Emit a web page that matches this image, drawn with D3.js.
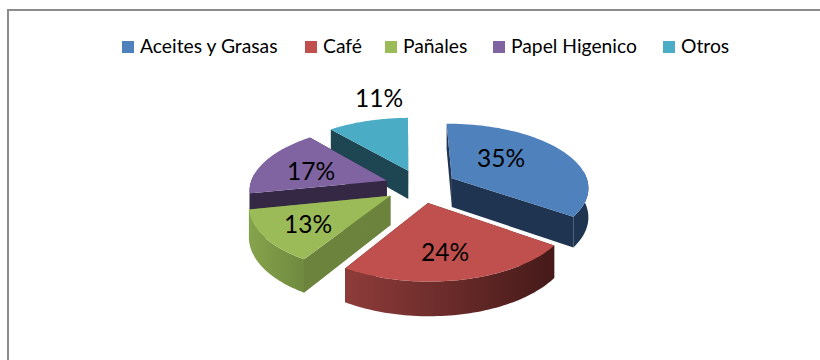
<!DOCTYPE html>
<html>
<head>
<meta charset="utf-8">
<script src="https://cdn.jsdelivr.net/npm/d3@7/dist/d3.min.js"></script>
<style>
  html, body { margin: 0; padding: 0; background: #fff; }
  svg { display: block; }
  text { font-family: Lato, "Open Sans", sans-serif; fill: #000; }
</style>
</head>
<body>
<svg id="chart" width="820" height="360"></svg>
<script>
const categories = ["Aceites y Grasas", "Café", "Pañales", "Papel Higenico", "Otros"];
const shares = [35, 24, 13, 17, 11];
const topColors = ["#4f81bd", "#c0504d", "#9bbb59", "#8064a2", "#4bacc6"];
const wallColors = ["#1f3450", "#4f1f1d", "#6b833c", "#342845", "#1e4652"];
const rimStops = [
  ["#1f3450", "#1f3450"],
  ["#8e3c3a", "#451a19"],
  ["#86a34c", "#6f8a3f"],
  ["#342845", "#342845"],
  ["#1e4652", "#1e4652"]
];
const legendX = [122, 305, 385, 493, 663];
const labelPos = [[501, 158], [445, 252], [308, 224], [311, 171], [379, 98]];

const svg = d3.select("#chart");

// Chart frame: left and top edges
svg.append("path")
  .attr("d", "M8,360V10H820")
  .attr("fill", "none")
  .attr("stroke", "#8c8c8c")
  .attr("stroke-width", 2);

// Ground-plane geometry of the exploded pie
const cx = 420.5, cy = 186, radius = 137, explode = 36, depth = 29;
const tilt = 0.464, persp = 0.00095;
const rotation = -0.8 * Math.PI / 180;

function project(X, Y, Z) {
  const s = 1 / (1 + persp * Y);
  return [cx + X * s, cy - Y * tilt * s + Z * s];
}

const arcs = d3.pie().sort(null).value(d => d)
  .startAngle(rotation).endAngle(rotation + 2 * Math.PI)(shares);
const defs = svg.append("defs");
const line = d3.line();

function sliceGeometry(a) {
  const mid = (a.startAngle + a.endAngle) / 2;
  const ox = explode * Math.sin(mid), oy = explode * Math.cos(mid);
  const at = (t, r, z) => project(ox + r * Math.sin(t), oy + r * Math.cos(t), z);
  const steps = d3.range(0, 61).map(i => a.startAngle + (a.endAngle - a.startAngle) * i / 60);
  return { at, steps };
}

// Back slices first so that the nearer ones overlap them
const paintOrder = [4, 3, 0, 2, 1];
const pieGroup = svg.append("g");

paintOrder.forEach(i => {
  const { at, steps } = sliceGeometry(arcs[i]);
  const g = pieGroup.append("g");

  // Radial walls
  [arcs[i].startAngle, arcs[i].endAngle].forEach(t => {
    const wall = [at(t, 0, 0), at(t, radius, 0), at(t, radius, depth), at(t, 0, depth)];
    g.append("path").attr("d", line(wall) + "Z").attr("fill", wallColors[i]);
  });

  // Outer rim, only the part turned toward the viewer
  const front = steps.filter(t => Math.cos(t) < 0.12);
  if (front.length > 1) {
    const upper = front.map(t => at(t, radius, 0));
    const lower = front.map(t => at(t, radius, depth)).reverse();
    const xs = upper.map(p => p[0]);
    const grad = defs.append("linearGradient")
      .attr("id", "rim" + i)
      .attr("gradientUnits", "userSpaceOnUse")
      .attr("x1", d3.min(xs)).attr("x2", d3.max(xs))
      .attr("y1", 0).attr("y2", 0);
    grad.append("stop").attr("offset", 0).attr("stop-color", rimStops[i][0]);
    grad.append("stop").attr("offset", 1).attr("stop-color", rimStops[i][1]);
    g.append("path")
      .attr("d", line(upper.concat(lower)) + "Z")
      .attr("fill", `url(#rim${i})`);
  }

  // Top face
  const top = [at(0, 0, 0)].concat(steps.map(t => at(t, radius, 0)));
  g.append("path").attr("d", line(top) + "Z").attr("fill", topColors[i]);
});

// Percentage labels
svg.append("g").selectAll("text")
  .data(shares)
  .join("text")
  .attr("x", (d, i) => labelPos[i][0])
  .attr("y", (d, i) => labelPos[i][1])
  .attr("dy", "0.35em")
  .attr("text-anchor", "middle")
  .attr("font-size", 24.5)
  .text(d => d + "%");

// Legend
const legend = svg.append("g").selectAll("g")
  .data(categories)
  .join("g")
  .attr("transform", (d, i) => `translate(${legendX[i]},46.5)`);
legend.append("rect")
  .attr("x", 0).attr("y", -5.5)
  .attr("width", 12).attr("height", 12)
  .attr("fill", (d, i) => topColors[i]);
legend.append("text")
  .attr("x", 18).attr("dy", "0.35em")
  .attr("font-size", 19.3)
  .text(d => d);
</script>
</body>
</html>
